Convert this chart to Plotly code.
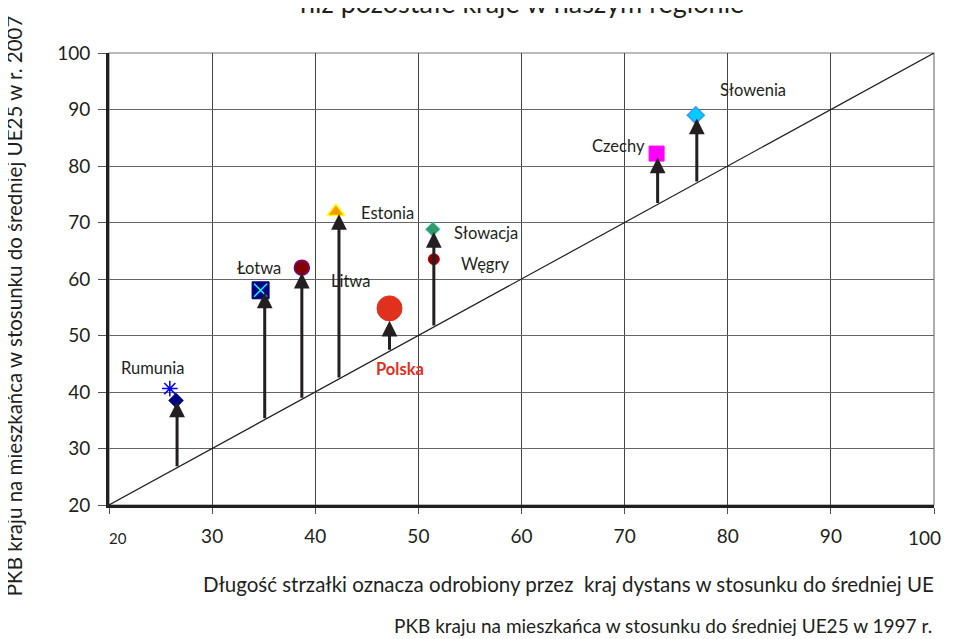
import plotly.graph_objects as go

# ---- data ----
countries = ["Rumunia", "Łotwa", "Litwa", "Estonia", "Polska", "Słowacja", "Węgry", "Czechy", "Słowenia"]
# GDP per capita vs EU25: 1997 (x) and 2007 (y) – marker positions
marker_x = [25.9, 34.7, 38.7, 42.0, 47.2, 51.4, 51.5, 73.1, 76.9]
marker_y = [40.6, 58.0, 62.0, 71.9, 54.8, 68.8, 63.5, 82.2, 89.0]
# extra marker drawn under Romania's arrow head
extra_x = [26.5]
extra_y = [38.5]
# arrows: start on the diagonal at 1997 level, end at 2007 level
arrow_x = [26.6, 35.1, 38.7, 42.3, 47.2, 51.5, 73.2, 77.0]
arrow_top = [38.3, 57.6, 61.1, 71.5, 52.6, 68.3, 81.5, 88.4]
label_x = [24.2, 34.5, 43.4, 47.0, 48.2, 56.6, 56.5, 69.4, 82.4]
label_y = [44.2, 61.9, 59.6, 71.6, 44.0, 68.1, 62.7, 83.5, 93.4]
x_ticks = [20, 30, 40, 50, 60, 70, 80, 90, 100]
y_ticks = [20, 30, 40, 50, 60, 70, 80, 90, 100]

title_text = "niż pozostałe kraje w naszym regionie"
y_title = "PKB kraju na mieszkańca w stosunku do średniej UE25 w r. 2007"
note_text = "Długość strzałki oznacza odrobiony przez  kraj dystans w stosunku do średniej UE"
x_title = "PKB kraju na mieszkańca w stosunku do średniej UE25 w 1997 r."

FONT = "Lato"
DARK = "#231F20"

marker_styles = [
    dict(symbol="asterisk-open", size=13, color="#0000FF", line=dict(color="#0000FF", width=1.5)),
    dict(symbol="square", size=17, color="#000080", line=dict(color="#000080", width=1)),
    dict(symbol="circle", size=15, color="#800000", line=dict(color="#800080", width=1.5)),
    dict(symbol="triangle-up", size=15, color="#FF9900", line=dict(color="#FFFF00", width=1.5)),
    dict(symbol="circle", size=25, color="#E0301E", line=dict(color="#E0301E", width=1)),
    dict(symbol="diamond", size=11, color="#339966", line=dict(color="#33CCCC", width=1)),
    dict(symbol="circle", size=11, color="#800000", line=dict(color="#CC0000", width=1)),
    dict(symbol="square", size=15, color="#FF00FF", line=dict(color="#FF00FF", width=1)),
    dict(symbol="diamond", size=13, color="#00CCFF", line=dict(color="#3399FF", width=1.5)),
]

fig = go.Figure()

# diagonal
fig.add_trace(go.Scatter(x=[x_ticks[0], x_ticks[-1]], y=[y_ticks[0], y_ticks[-1]], mode="lines",
                         line=dict(color=DARK, width=1.2), hoverinfo="skip", showlegend=False))

fig.add_trace(go.Scatter(x=extra_x, y=extra_y, mode="markers",
                         marker=dict(symbol="diamond", size=12, color="#000080"), showlegend=False))

for i, c in enumerate(countries):
    fig.add_trace(go.Scatter(x=[marker_x[i]], y=[marker_y[i]], mode="markers", name=c,
                             marker=marker_styles[i], showlegend=False))
    if c == "Łotwa":
        fig.add_trace(go.Scatter(x=[marker_x[i]], y=[marker_y[i]], mode="markers",
                                 marker=dict(symbol="x-thin-open", size=13, color="#00FFFF",
                                             line=dict(color="#00FFFF", width=1.5)),
                                 showlegend=False))

annotations = []
for ax_, top in zip(arrow_x, arrow_top):
    annotations.append(dict(x=ax_, y=top, ax=ax_, ay=ax_, xref="x", yref="y", axref="x", ayref="y",
                            text="", showarrow=True, arrowhead=2, arrowsize=1.05, arrowwidth=3,
                            arrowcolor=DARK, standoff=0, startstandoff=0))

for i, c in enumerate(countries):
    if c == "Polska":
        f = dict(family=FONT, size=16.5, color="#E0301E", weight="bold")
        txt = "<b>Polska</b>"
    else:
        f = dict(family=FONT, size=16.5, color=DARK)
        txt = c
    annotations.append(dict(x=label_x[i], y=label_y[i], xref="x", yref="y", text=txt,
                            showarrow=False, font=f, xanchor="center", yanchor="middle"))

annotations += [
    dict(x=0.5, y=1.071, xref="paper", yref="paper", text=title_text, showarrow=False,
         font=dict(family=FONT, size=27, color=DARK), xanchor="center", yanchor="bottom"),
    dict(x=-0.115, y=0.44, xref="paper", yref="paper", text=y_title, showarrow=False, textangle=-90,
         font=dict(family=FONT, size=20.5, color=DARK), xanchor="center", yanchor="middle"),
    dict(x=1.002, y=-0.174, xref="paper", yref="paper", text=note_text, showarrow=False,
         font=dict(family=FONT, size=20.5, color=DARK), xanchor="right", yanchor="middle"),
    dict(x=1.0, y=-0.267, xref="paper", yref="paper", text=x_title, showarrow=False,
         font=dict(family=FONT, size=19, color=DARK), xanchor="right", yanchor="middle"),
    # first and last x tick labels placed by hand (smaller "20", "100" kept inside the page)
    dict(x=0.011, y=-0.072, xref="paper", yref="paper", text=str(x_ticks[0]), showarrow=False,
         font=dict(family=FONT, size=15, color=DARK), xanchor="center", yanchor="middle"),
    dict(x=1.011, y=-0.072, xref="paper", yref="paper", text=str(x_ticks[-1]), showarrow=False,
         font=dict(family=FONT, size=19, color=DARK), xanchor="right", yanchor="middle"),
]

# page body has an 8px margin: figure is sized/offset to compensate
fig.update_layout(
    width=945, height=631,
    margin=dict(l=101, r=19, t=45, b=134),
    paper_bgcolor="white", plot_bgcolor="white",
    font=dict(family=FONT, color=DARK),
    annotations=annotations,
    shapes=[dict(type="rect", xref="paper", yref="paper", x0=0, y0=0, x1=1, y1=1,
                 line=dict(color="#777777", width=1.2), layer="below")],
    showlegend=False,
)
fig.update_xaxes(range=[20, 100], tickvals=x_ticks, automargin=False,
                 ticktext=[""] + [str(v) for v in x_ticks[1:-1]] + [""],
                 showgrid=True, gridcolor="#444444", gridwidth=1,
                 showline=True, linecolor=DARK, linewidth=3,
                 ticks="outside", ticklen=6, tickcolor="#555555", tickwidth=1,
                 tickfont=dict(family=FONT, size=19, color=DARK), ticklabelstandoff=6,
                 zeroline=False, fixedrange=True)
fig.update_yaxes(range=[20, 100], tickvals=y_ticks, automargin=False,
                 showgrid=True, gridcolor="#666666", gridwidth=1,
                 showline=True, linecolor=DARK, linewidth=3,
                 ticks="outside", ticklen=8, tickcolor="#555555", tickwidth=1,
                 tickfont=dict(family=FONT, size=19, color=DARK), ticklabelstandoff=4,
                 zeroline=False, fixedrange=True)

fig.write_html("out.html")
